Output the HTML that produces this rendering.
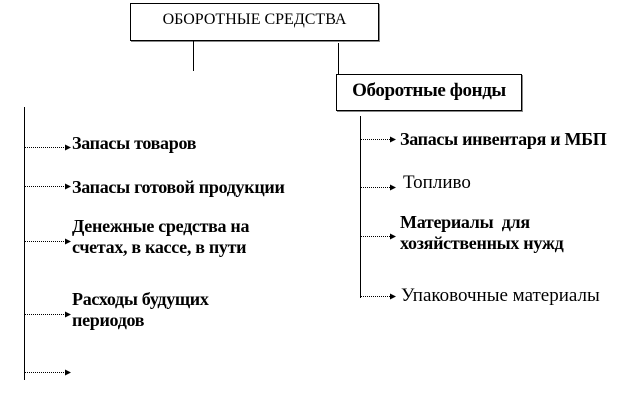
<!DOCTYPE html>
<html><head><meta charset="utf-8"><style>
body{margin:0;width:643px;height:411px;background:#fff;position:relative;overflow:hidden;font-family:"Liberation Serif",serif;}
.t{position:absolute;font-size:19px;line-height:21px;color:#000;white-space:nowrap;}
.b{font-weight:bold;font-size:18px;letter-spacing:-0.3px;}
.box{position:absolute;border:1px solid #000;box-shadow:1px 1px 0 #888;}
</style></head><body>
<div class="box" style="left:130px;top:3px;width:247px;height:36px;"></div>
<div class="t" style="left:130px;width:249px;text-align:center;top:9px;font-size:16px;">ОБОРОТНЫЕ СРЕДСТВА</div>
<div class="box" style="left:336px;top:74px;width:184px;height:35px;"></div>
<div class="t b" style="left:336px;width:186px;text-align:center;top:80px;font-size:19px;letter-spacing:-0.4px;">Оборотные фонды</div>
<svg width="643" height="411" style="position:absolute;left:0;top:0">
<defs><marker id="a" markerWidth="6" markerHeight="6" refX="5" refY="3" orient="auto" markerUnits="userSpaceOnUse"><path d="M0,0 L6,3 L0,6z" fill="#000"/></marker></defs>
<g stroke="#000" stroke-width="1" fill="none">
<line x1="193.5" y1="40" x2="193.5" y2="71"/>
<line x1="338.5" y1="43" x2="338.5" y2="74"/>
<line x1="24.5" y1="107" x2="24.5" y2="380"/>
<line x1="360.5" y1="116" x2="360.5" y2="298"/>
</g>
<g stroke="#000" stroke-width="1" stroke-dasharray="1,1" marker-end="url(#a)">
<line x1="25" y1="147.5" x2="70" y2="147.5"/>
<line x1="25" y1="186.5" x2="70" y2="186.5"/>
<line x1="25" y1="241.5" x2="70" y2="241.5"/>
<line x1="25" y1="314.5" x2="70" y2="314.5"/>
<line x1="25" y1="372.5" x2="70" y2="372.5"/>
<line x1="361" y1="139.5" x2="395" y2="139.5"/>
<line x1="361" y1="187.5" x2="395" y2="187.5"/>
<line x1="361" y1="236.5" x2="395" y2="236.5"/>
<line x1="361" y1="296.5" x2="395" y2="296.5"/>
</g>
</svg>
<div class="t b" style="left:72px;top:133px;">Запасы товаров</div>
<div class="t b" style="left:72px;top:177px;">Запасы готовой продукции</div>
<div class="t b" style="left:72px;top:216px;">Денежные средства на<br>счетах, в кассе, в пути</div>
<div class="t b" style="left:72px;top:289px;">Расходы будущих<br>периодов</div>
<div class="t b" style="left:400px;top:129px;">Запасы инвентаря и МБП</div>
<div class="t" style="left:403px;top:172px;">Топливо</div>
<div class="t b" style="left:400px;top:212px;">Материалы &nbsp;для<br>хозяйственных нужд</div>
<div class="t" style="left:401px;top:285px;">Упаковочные материалы</div>
</body></html>
